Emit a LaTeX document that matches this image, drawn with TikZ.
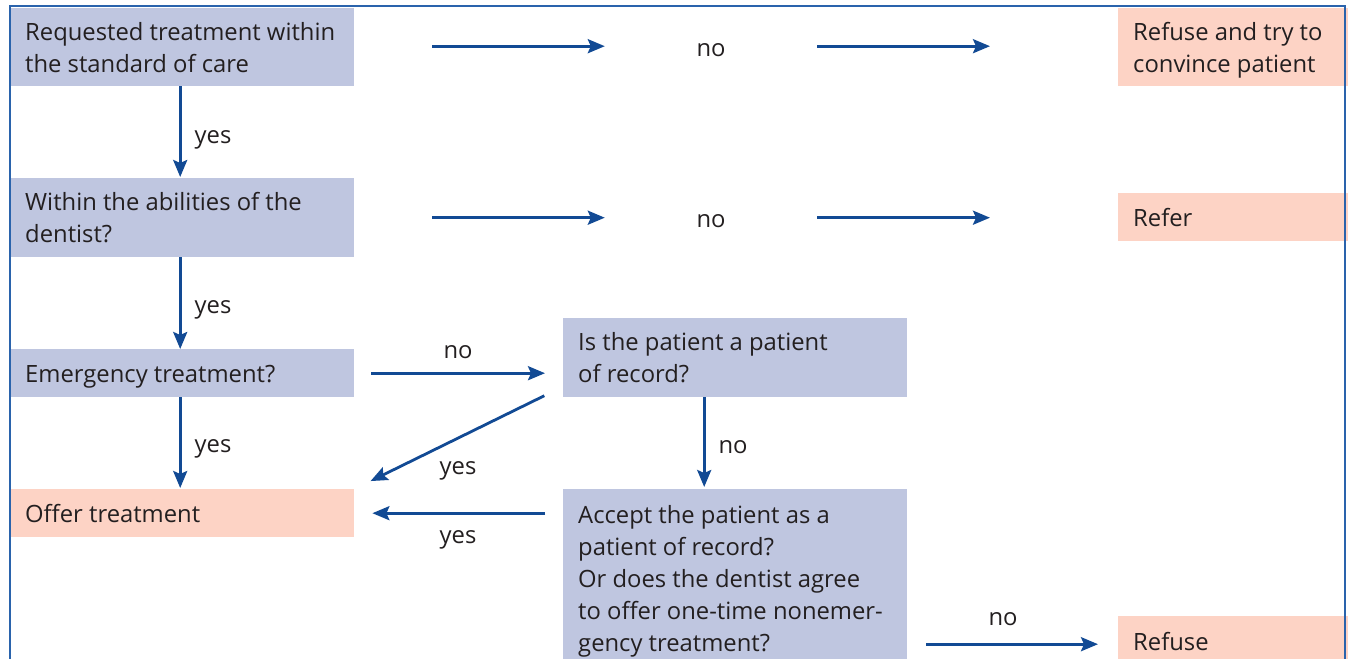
\documentclass[tikz,border=0pt]{standalone}
\usepackage{fontspec}
\setmainfont{Open Sans}
\usetikzlibrary{arrows.meta,calc}
\definecolor{boxblue}{RGB}{191,198,224}
\definecolor{boxpink}{RGB}{253,211,197}
\definecolor{arrowblue}{RGB}{18,74,148}
\definecolor{framecol}{RGB}{42,99,172}
\definecolor{txt}{RGB}{35,31,32}
\newcommand\boxstrut{\rule[-7bp]{0pt}{32bp}}
\begin{document}
\begin{tikzpicture}[x=1bp,y=-1bp,
  font=\fontsize{23.8bp}{32bp}\selectfont, text=txt,
  boxbase/.style={anchor=north west, inner xsep=15bp, inner ysep=0bp,
    align=flush left, execute at begin node=\boxstrut, execute at end node=\boxstrut},
  qbox/.style={boxbase, fill=boxblue, text width=314bp},
  pbox/.style={boxbase, fill=boxpink, text width=314bp},
  rbox/.style={boxbase, fill=boxpink, text width=200bp},
  lbl/.style={inner sep=0pt},
  arr/.style={draw=arrowblue, line width=2.8bp, -{Stealth[length=17bp,width=14bp,inset=3bp]}}]
\useasboundingbox (0,0) rectangle (1349,659);
\clip (0,0) rectangle (1349,659);

% boxes
\node[qbox, minimum height=78bp] (B1) at (10,8) {Requested treatment within\\the standard of care};
\node[rbox, minimum height=78bp] (R1) at (1118,8) {Refuse and try to\\convince patient};
\node[qbox, minimum height=79bp] (B2) at (10,178) {Within the abilities of the\\dentist?};
\node[rbox, minimum height=48bp] (R2) at (1118,193) {Refer};
\node[qbox, minimum height=48bp] (B3) at (10,349) {Emergency treatment?};
\node[pbox, minimum height=48bp] (O) at (10,489) {Offer treatment};
\node[qbox, minimum height=79bp] (P) at (563,318) {Is the patient a patient\\of record?};
\node[qbox, minimum height=178bp] (A) at (563,489) {Accept the patient as a\\patient of record?\\Or does the dentist agree\\to offer one-time nonemer-\\gency treatment?};
\node[rbox, minimum height=50bp] (RF) at (1118,616) {Refuse};

% middle labels on long rows
\node[lbl, minimum width=212bp] (n1) at (711,50) {no};
\node[lbl, minimum width=212bp] (n2) at (711,221) {no};

% row arrows
\draw[arr, shorten <=78bp] ([yshift=1bp]B1.east) -- ([yshift=1bp]B1.east -| n1.west);
\draw[arr, shorten >=128bp] ([yshift=1bp]B1.east -| n1.east) -- ([yshift=1bp]B1.east -| R1.west);
\draw[arr, shorten <=78bp] (B2.east) -- (B2.east -| n2.west);
\draw[arr, shorten >=128bp] (B2.east -| n2.east) -- (B2.east -| R2.west);

% vertical yes arrows
\draw[arr, shorten >=1bp] ([xshift=-2bp]B1.south) -- ([xshift=-2bp]B2.north);
\draw[arr] ([xshift=-2bp]B2.south) -- ([xshift=-2bp]B3.north);
\draw[arr, shorten >=1bp] ([xshift=-2bp]B3.south) -- ([xshift=-2bp]O.north);

% emergency -> patient of record
\draw[arr, shorten <=17bp, shorten >=18bp] (B3.east) -- (B3.east -| P.west);
% patient of record -> offer (yes)
\draw[arr, shorten <=3bp, shorten >=18bp] ([xshift=-16bp,yshift=3bp]P.south west) -- (O.north east);
% patient of record -> accept (no)
\draw[arr, shorten >=2bp] ([xshift=-31bp]P.south) -- ([xshift=-31bp]A.north);
% accept -> offer (yes)
\draw[arr, shorten <=18bp, shorten >=18bp] (A.west |- O.east) -- (O.east);
% accept -> refuse (no)
\draw[arr, shorten <=19bp, shorten >=20bp] ([yshift=-3bp]A.east |- RF.west) -- ([yshift=-3bp]RF.west);

% labels
\node[lbl, anchor=base] (y1) at (213,143) {yes};
\node[lbl, anchor=base] (y2) at (213,313) {yes};
\node[lbl, anchor=base] (y3) at (213,452) {yes};
\node[lbl, anchor=base] (l4) at (458,358) {no};
\node[lbl, anchor=base] (y5) at (458,474) {yes};
\node[lbl, anchor=base] (l6) at (733,453) {no};
\node[lbl, anchor=base] (y7) at (458,543) {yes};
\node[lbl, anchor=base] (l8) at (1003,625) {no};

% frame
\draw[framecol, line width=2bp] (10,659) -- (10,6) -- (1345,6) -- (1345,659);
\end{tikzpicture}
\end{document}
